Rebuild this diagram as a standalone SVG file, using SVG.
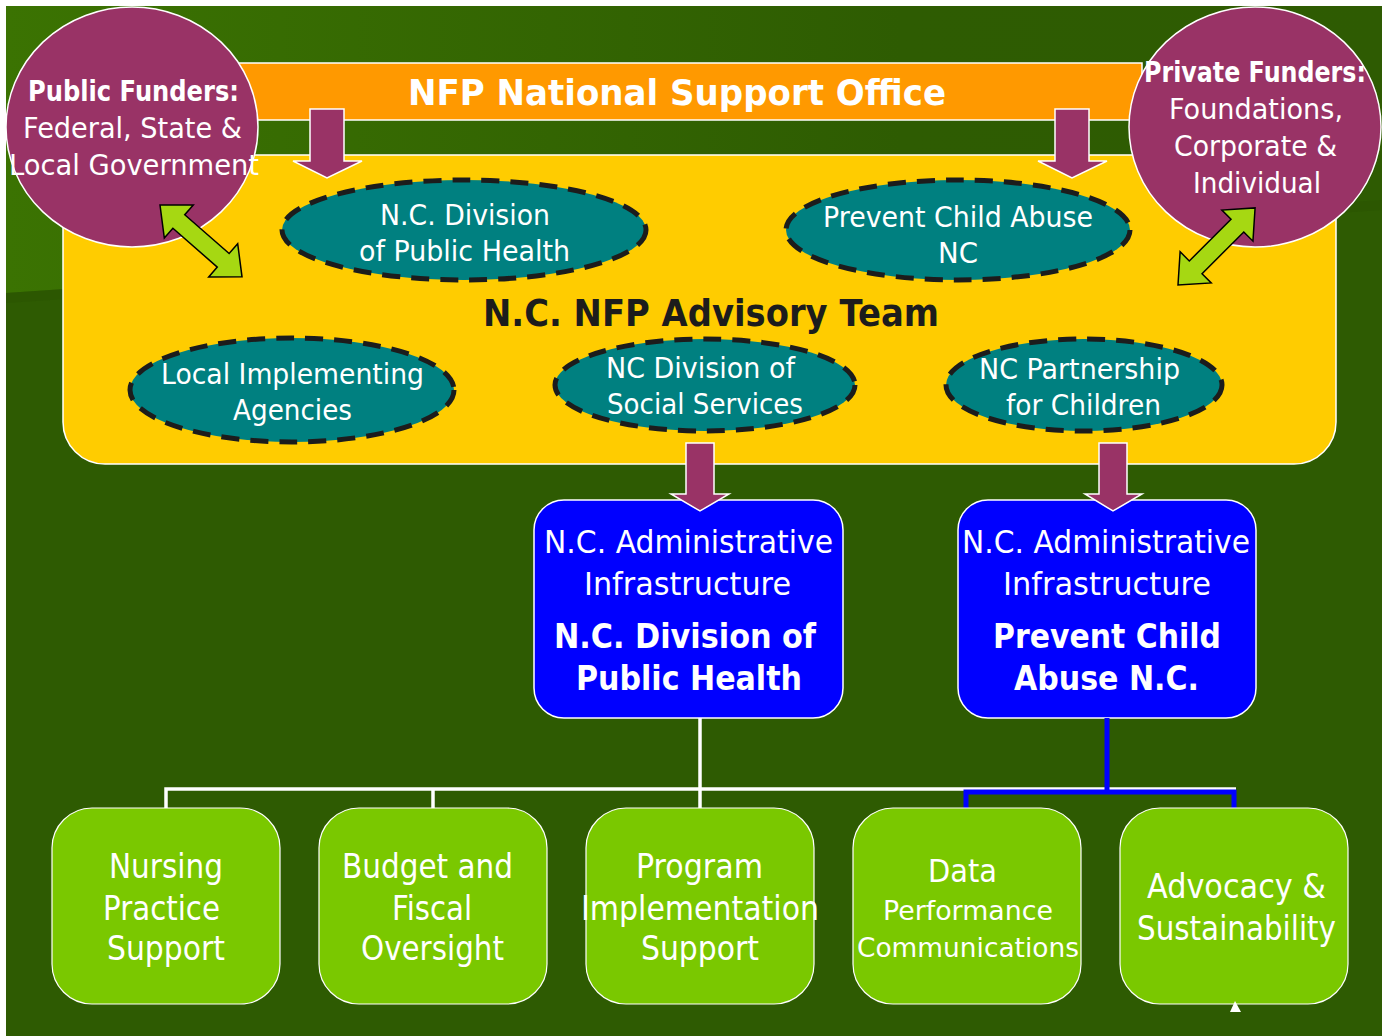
<svg xmlns="http://www.w3.org/2000/svg" width="1387" height="1036" viewBox="0 0 1387 1036">
  <defs>
    <linearGradient id="bgTop" x1="0" y1="0" x2="1" y2="0">
      <stop offset="0" stop-color="#3b7302"/>
      <stop offset="0.65" stop-color="#2e5c02"/>
      <stop offset="1" stop-color="#2e5b02"/>
    </linearGradient>
    <style>
      text { font-family: "DejaVu Sans", "Liberation Sans", sans-serif; text-anchor: middle; fill: #ffffff; }
      .b { font-weight: bold; }
      .funder { fill: #993366; stroke: #ffffff; stroke-width: 1.5; }
      .member { fill: #008080; stroke: #1c1c1c; stroke-width: 5; stroke-dasharray: 18 11; }
      .admin { fill: #0000ff; stroke: #ffffff; stroke-width: 1.5; }
      .unit { fill: #7ac800; stroke: #ffffff; stroke-width: 1.2; }
      .down { fill: #993366; stroke: #ffffff; stroke-width: 1.5; }
      .both { fill: #a6d812; stroke: #000000; stroke-width: 1.5; }
      .wire { fill: none; stroke: #ffffff; stroke-width: 3.5; }
      .wireBlue { fill: none; stroke: #0000ff; stroke-width: 5; }
    </style>
  </defs>

  <!-- backdrop -->
  <rect x="0" y="0" width="1387" height="1036" fill="#ffffff"/>
  <rect x="6" y="6" width="1376" height="1030" fill="#2e5b02"/>
  <path d="M6,6 H1382 V200 L6,293 Z" fill="url(#bgTop)"/>
  <path d="M6,293 L1382,200 V210 L6,303 Z" fill="#2a5400" opacity="0.5"/>

  <!-- national office banner -->
  <g id="national-office">
    <rect x="238" y="63" width="904" height="57" fill="#ff9900" stroke="#ffffff" stroke-width="1.5"/>
    <text class="b" x="677" y="105" font-size="36" textLength="538" lengthAdjust="spacingAndGlyphs">NFP National Support Office</text>
  </g>

  <!-- advisory team panel -->
  <g id="advisory-team">
    <rect x="63" y="155" width="1273" height="309" rx="42" fill="#ffcc00" stroke="#ffffff" stroke-width="1.5"/>
    <text class="b" x="711" y="326" font-size="38" textLength="456" lengthAdjust="spacingAndGlyphs" style="fill:#1c1c1c">N.C. NFP Advisory Team</text>
  </g>

  <!-- funders -->
  <g id="public-funders">
    <ellipse class="funder" cx="132" cy="127" rx="126" ry="120"/>
    <text class="b" x="133.5" y="101" font-size="29" textLength="211" lengthAdjust="spacingAndGlyphs">Public Funders:</text>
    <text x="132.5" y="138" font-size="28" textLength="219" lengthAdjust="spacingAndGlyphs">Federal, State &amp;</text>
    <text x="134" y="175" font-size="28" textLength="250" lengthAdjust="spacingAndGlyphs">Local Government</text>
  </g>
  <g id="private-funders">
    <ellipse class="funder" cx="1255" cy="127" rx="126" ry="120"/>
    <text class="b" x="1255" y="82" font-size="28" textLength="222" lengthAdjust="spacingAndGlyphs">Private Funders:</text>
    <text x="1256" y="119" font-size="28" textLength="174" lengthAdjust="spacingAndGlyphs">Foundations,</text>
    <text x="1255.5" y="156" font-size="28" textLength="163" lengthAdjust="spacingAndGlyphs">Corporate &amp;</text>
    <text x="1257" y="193" font-size="28" textLength="128" lengthAdjust="spacingAndGlyphs">Individual</text>
  </g>

  <!-- two-way links between funders and team -->
  <g id="funder-links">
    <polygon class="both" transform="translate(160,205) rotate(41.2)" points="0,0 25,-22 25,-9 84,-9 84,-22 109,0 84,22 84,9 25,9 25,22"/>
    <polygon class="both" transform="translate(1178,285) rotate(-45)" points="0,0 25,-22 25,-9 84,-9 84,-22 109,0 84,22 84,9 25,9 25,22"/>
  </g>

  <!-- advisory team members -->
  <g id="dph-member">
    <ellipse class="member" cx="464" cy="230" rx="182" ry="50"/>
    <text x="465" y="225" font-size="29" textLength="170" lengthAdjust="spacingAndGlyphs">N.C. Division</text>
    <text x="464.5" y="261" font-size="29" textLength="211" lengthAdjust="spacingAndGlyphs">of Public Health</text>
  </g>
  <g id="pcanc-member">
    <ellipse class="member" cx="958" cy="230" rx="172" ry="50"/>
    <text x="958" y="227" font-size="29" textLength="270" lengthAdjust="spacingAndGlyphs">Prevent Child Abuse</text>
    <text x="958" y="263" font-size="29" textLength="40" lengthAdjust="spacingAndGlyphs">NC</text>
  </g>
  <g id="local-agencies">
    <ellipse class="member" cx="292" cy="390" rx="162" ry="52"/>
    <text x="292.5" y="384" font-size="29" textLength="263" lengthAdjust="spacingAndGlyphs">Local Implementing</text>
    <text x="292.5" y="420" font-size="29" textLength="119" lengthAdjust="spacingAndGlyphs">Agencies</text>
  </g>
  <g id="dss-member">
    <ellipse class="member" cx="705" cy="385" rx="150" ry="46"/>
    <text x="700.5" y="378" font-size="29" textLength="189" lengthAdjust="spacingAndGlyphs">NC Division of</text>
    <text x="705" y="414" font-size="29" textLength="196" lengthAdjust="spacingAndGlyphs">Social Services</text>
  </g>
  <g id="partnership-member">
    <ellipse class="member" cx="1084" cy="385" rx="138" ry="46"/>
    <text x="1079.5" y="379" font-size="29" textLength="201" lengthAdjust="spacingAndGlyphs">NC Partnership</text>
    <text x="1083.5" y="415" font-size="29" textLength="155" lengthAdjust="spacingAndGlyphs">for Children</text>
  </g>

  <!-- administrative infrastructure -->
  <g id="admin-dph">
    <rect class="admin" x="534" y="500" width="309" height="218" rx="30"/>
    <text x="688.5" y="553" font-size="32" textLength="289" lengthAdjust="spacingAndGlyphs">N.C. Administrative</text>
    <text x="687.5" y="595" font-size="32" textLength="207" lengthAdjust="spacingAndGlyphs">Infrastructure</text>
    <text class="b" x="685" y="648" font-size="33" textLength="262" lengthAdjust="spacingAndGlyphs">N.C. Division of</text>
    <text class="b" x="689" y="690" font-size="33" textLength="226" lengthAdjust="spacingAndGlyphs">Public Health</text>
  </g>
  <g id="admin-pcanc">
    <rect class="admin" x="958" y="500" width="298" height="218" rx="30"/>
    <text x="1106" y="553" font-size="32" textLength="288" lengthAdjust="spacingAndGlyphs">N.C. Administrative</text>
    <text x="1107" y="595" font-size="32" textLength="208" lengthAdjust="spacingAndGlyphs">Infrastructure</text>
    <text class="b" x="1107" y="648" font-size="33" textLength="228" lengthAdjust="spacingAndGlyphs">Prevent Child</text>
    <text class="b" x="1106.5" y="690" font-size="33" textLength="185" lengthAdjust="spacingAndGlyphs">Abuse N.C.</text>
  </g>

  <g id="connectors">
    <!-- funding flows into the advisory team -->
    <path class="down" d="M310,109 H344 V161 H362 L327,178 L293,161 H310 Z"/>
    <path class="down" d="M1055,109 H1089 V161 H1107 L1072,178 L1038,161 H1055 Z"/>
    <!-- advisory team to administrative infrastructure -->
    <path class="down" d="M686,443 H714 V494 H729 L700,511 L671,494 H686 Z"/>
    <path class="down" d="M1099,443 H1127 V494 H1142 L1113,511 L1085,494 H1099 Z"/>
    <!-- org chart lines -->
    <path class="wire" d="M700,718 V789 M166,808 V789 H1236 M433,789 V808 M700,789 V808"/>
    <path class="wireBlue" d="M1107,718 V792 M966,808 V792 H1234 V808"/>
  </g>

  <!-- support units -->
  <g id="nursing">
    <rect class="unit" x="52" y="808" width="228" height="196" rx="40"/>
    <text x="166" y="878" font-size="34" textLength="114" lengthAdjust="spacingAndGlyphs">Nursing</text>
    <text x="161.5" y="920" font-size="34" textLength="117" lengthAdjust="spacingAndGlyphs">Practice</text>
    <text x="166" y="960" font-size="34" textLength="118" lengthAdjust="spacingAndGlyphs">Support</text>
  </g>
  <g id="budget">
    <rect class="unit" x="319" y="808" width="228" height="196" rx="40"/>
    <text x="427.5" y="878" font-size="34" textLength="171" lengthAdjust="spacingAndGlyphs">Budget and</text>
    <text x="432" y="920" font-size="34" textLength="80" lengthAdjust="spacingAndGlyphs">Fiscal</text>
    <text x="432.5" y="960" font-size="34" textLength="143" lengthAdjust="spacingAndGlyphs">Oversight</text>
  </g>
  <g id="program">
    <rect class="unit" x="586" y="808" width="228" height="196" rx="40"/>
    <text x="699.5" y="878" font-size="34" textLength="127" lengthAdjust="spacingAndGlyphs">Program</text>
    <text x="700" y="920" font-size="34" textLength="238" lengthAdjust="spacingAndGlyphs">Implementation</text>
    <text x="700" y="960" font-size="34" textLength="118" lengthAdjust="spacingAndGlyphs">Support</text>
  </g>
  <g id="data">
    <rect class="unit" x="853" y="808" width="228" height="196" rx="40"/>
    <text x="962.5" y="882" font-size="32" textLength="69" lengthAdjust="spacingAndGlyphs">Data</text>
    <text x="968" y="920" font-size="27" textLength="170" lengthAdjust="spacingAndGlyphs">Performance</text>
    <text x="968" y="957" font-size="27" textLength="222" lengthAdjust="spacingAndGlyphs">Communications</text>
  </g>
  <g id="advocacy">
    <rect class="unit" x="1120" y="808" width="228" height="196" rx="40"/>
    <text x="1236.5" y="898" font-size="34" textLength="179" lengthAdjust="spacingAndGlyphs">Advocacy &amp;</text>
    <text x="1236.5" y="940" font-size="34" textLength="199" lengthAdjust="spacingAndGlyphs">Sustainability</text>
    <polygon points="1235,1001 1241,1012 1230,1012" fill="#ffffff"/>
  </g>
</svg>
